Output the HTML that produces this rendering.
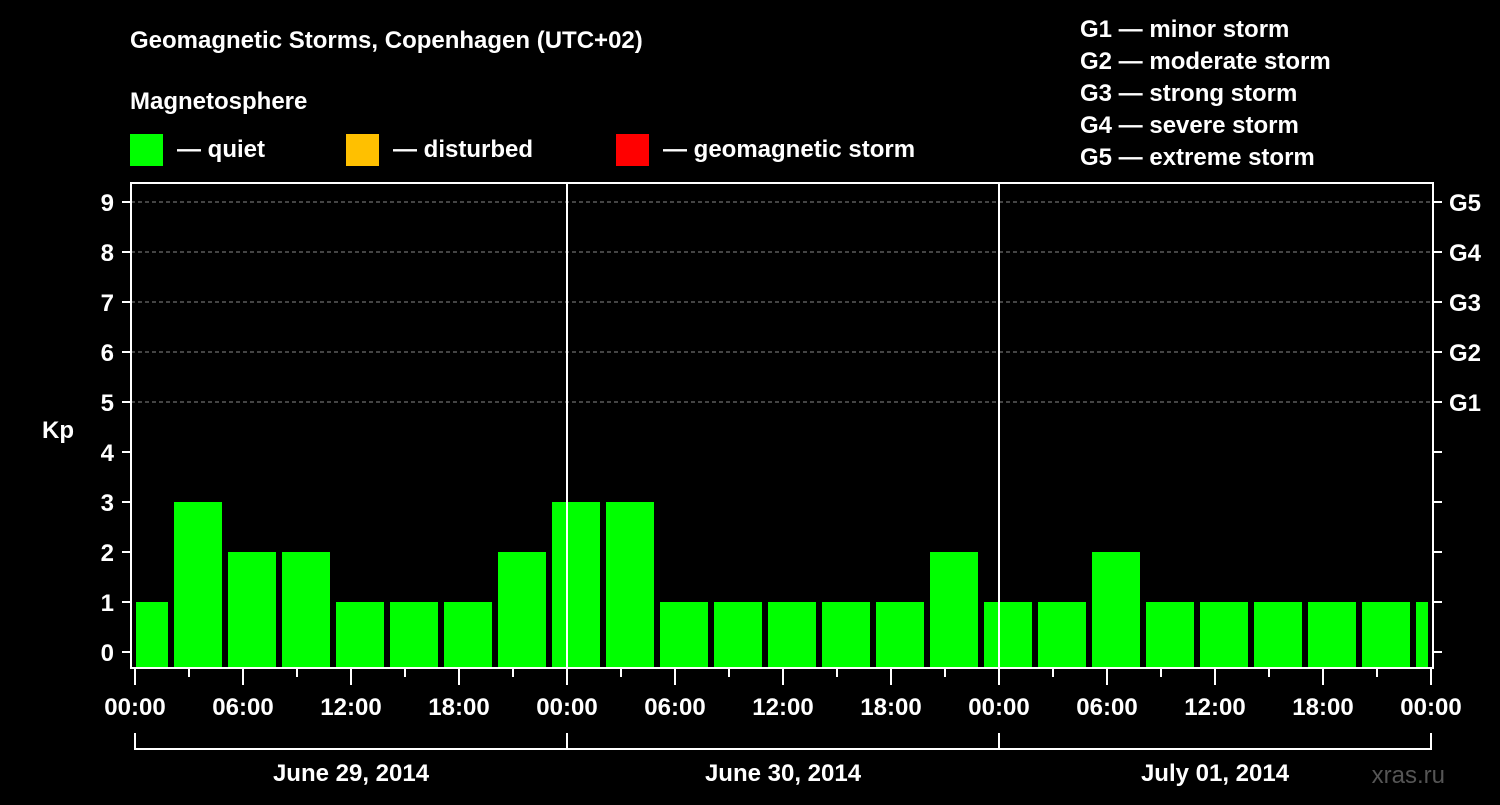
<!DOCTYPE html>
<html><head><meta charset="utf-8"><style>
body{margin:0;background:#000;width:1500px;height:800px;overflow:hidden}
svg text{font-family:"Liberation Sans",Arial,sans-serif;font-weight:bold;fill:#fff}
</style></head><body>
<svg id="c" width="1500" height="800" xmlns="http://www.w3.org/2000/svg">
<text x="130" y="48" font-size="24">Geomagnetic Storms, Copenhagen (UTC+02)</text>
<text x="130" y="109" font-size="24">Magnetosphere</text>
<g><rect x="130" y="134" width="33" height="32" fill="#00ff00"/><text x="177" y="157" font-size="24">— quiet</text></g>
<g><rect x="346" y="134" width="33" height="32" fill="#ffc000"/><text x="393" y="157" font-size="24">— disturbed</text></g>
<g><rect x="616" y="134" width="33" height="32" fill="#ff0000"/><text x="663" y="157" font-size="24">— geomagnetic storm</text></g>
<g font-size="24">
<text x="1080" y="37">G1 — minor storm</text>
<text x="1080" y="69">G2 — moderate storm</text>
<text x="1080" y="101">G3 — strong storm</text>
<text x="1080" y="133">G4 — severe storm</text>
<text x="1080" y="165">G5 — extreme storm</text>
</g>
<text x="42" y="438" font-size="24">Kp</text>
<text x="1445" y="783" font-size="24" fill="#555" style="fill:#555;font-weight:normal" text-anchor="end">xras.ru</text>
<g id="g"></g>
</svg>
<script>
const dayLabels=["June 29, 2014","June 30, 2014","July 01, 2014"];
const hourLabels=["00:00","06:00","12:00","18:00"];
const kpStartHours=[-1,2,5,8,11,14,17,20,23,26,29,32,35,38,41,44,47,50,53,56,59,62,65,68,71];
const kpValues=[1,3,2,2,1,1,1,2,3,3,1,1,1,1,1,2,1,1,2,1,1,1,1,1,1];
const gLabels=["G1","G2","G3","G4","G5"];
const X0=135,PXH=18,HMAX=72,Y0=652,PXK=50,TOP=183,BOT=668,L=131,R=1433;
const xs=h=>X0+h*PXH, ys=k=>Y0-k*PXK;
const g=document.getElementById('g');
function el(t,a,txt){const e=document.createElementNS('http://www.w3.org/2000/svg',t);for(const k in a)e.setAttribute(k,a[k]);if(txt!==undefined)e.textContent=txt;g.appendChild(e);return e;}
for(let k=5;k<=9;k++){const e=el('line',{x1:L,x2:R,y1:ys(k),y2:ys(k),stroke:'#888','stroke-dasharray':'4,3'});

}
kpValues.forEach((v,i)=>{const s=Math.max(0,kpStartHours[i]),e2=Math.min(HMAX,kpStartHours[i]+3);
const x1=xs(s)+(kpStartHours[i]<0?1:3),x2=xs(e2)-3;
const c=v>=5?'#ff0000':v>=4?'#ffc000':'#00ff00';
const r=el('rect',{x:x1,y:ys(v),width:x2-x1,height:BOT-ys(v),fill:c});

});
for(let d=1;d<3;d++){const e=el('line',{x1:xs(d*24),x2:xs(d*24),y1:TOP,y2:BOT,stroke:'#fff','stroke-width':2});

}
const fr=el('rect',{x:L,y:TOP,width:R-L,height:BOT-TOP,fill:'none',stroke:'#fff','stroke-width':2});


for(let k=0;k<=9;k++){el('line',{x1:122,x2:L,y1:ys(k),y2:ys(k),stroke:'#fff','stroke-width':2});
el('line',{x1:R,x2:1442,y1:ys(k),y2:ys(k),stroke:'#fff','stroke-width':2});
const t=el('text',{x:114,y:ys(k)+9,'font-size':24,'text-anchor':'end'},String(k));

}
gLabels.forEach((s,i)=>{const t=el('text',{x:1449,y:ys(5+i)+9,'font-size':24},s);

});
for(let h=0;h<=HMAX;h+=3){const maj=h%6==0;el('line',{x1:xs(h),x2:xs(h),y1:BOT,y2:maj?685:677,stroke:'#fff','stroke-width':2});
if(maj){const t=el('text',{x:xs(h),y:715,'font-size':24,'text-anchor':'middle'},hourLabels[(h%24)/6]);

}}
el('line',{x1:xs(0),x2:xs(HMAX),y1:749,y2:749,stroke:'#fff','stroke-width':2});
for(let d=0;d<=3;d++)el('line',{x1:xs(d*24),x2:xs(d*24),y1:733,y2:750,stroke:'#fff','stroke-width':2});
dayLabels.forEach((s,d)=>{const t=el('text',{x:xs(d*24+12),y:781,'font-size':24,'text-anchor':'middle'},s);

});
</script>
</body></html>
